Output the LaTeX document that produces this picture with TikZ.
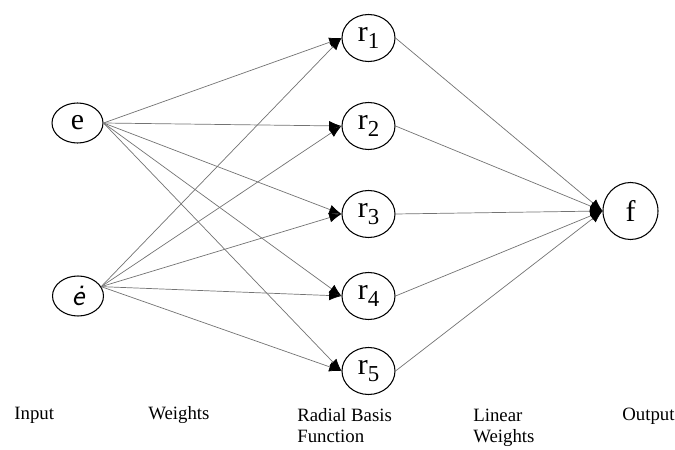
\documentclass[tikz,border=0pt]{standalone}
\usepackage{fontspec}
\setmainfont{Liberation Serif}
\usepackage{tikz}
\usetikzlibrary{arrows.meta,shapes.geometric}

\newcommand{\rnode}[1]{r\raisebox{-0.55ex}{\fontsize{13}{13}\selectfont #1}}

\begin{document}
\begin{tikzpicture}[
    neuron/.style={draw,ellipse,line width=0.6pt,inner sep=0pt,font=\fontsize{17}{17}\selectfont},
    link/.style={draw=black!55,line width=0.4pt,-{Latex[length=7pt,width=5.5pt,black]}},
    caption/.style={font=\fontsize{10.7}{12}\selectfont,align=left,anchor=west,inner sep=0pt}]
  \useasboundingbox (0,0) rectangle (13.5,9);
  % input layer
  \node[neuron,minimum width=1.02cm,minimum height=0.8cm] (e) at (1.55,6.54) {e};
  \node[neuron,minimum width=1.02cm,minimum height=0.8cm] (ed) at (1.56,3.08) {\sffamily\itshape\.e};
  % radial basis layer
  \foreach \i/\y in {1/8.24,2/6.48,3/4.72,4/3.08,5/1.58}
    \node[neuron,minimum width=1.06cm,minimum height=0.94cm] (r\i) at (7.37,\y) {\rnode{\i}};
  % output
  \node[neuron,minimum width=1.1cm,minimum height=1.14cm] (f) at (12.61,4.78) {f};
  % weights
  \foreach \i in {1,...,5} {
    \draw[link] (e.east) -- (r\i.west);
    \draw[link] (ed.22) -- (r\i.west);
    \draw[link] (r\i.east) -- (f.west);
  }
  % layer names
  \node[caption] (lin) at (0.28,0.7) {Input};
  \node[caption] (lw) at (2.96,0.7) {Weights};
  \node[caption] (lrbf) at (5.94,0.48) {Radial Basis\\Function};
  \node[caption] (llw) at (9.46,0.44) {Linear\\Weights};
  \node[caption] (lout) at (12.44,0.68) {Output};
\end{tikzpicture}
\end{document}
